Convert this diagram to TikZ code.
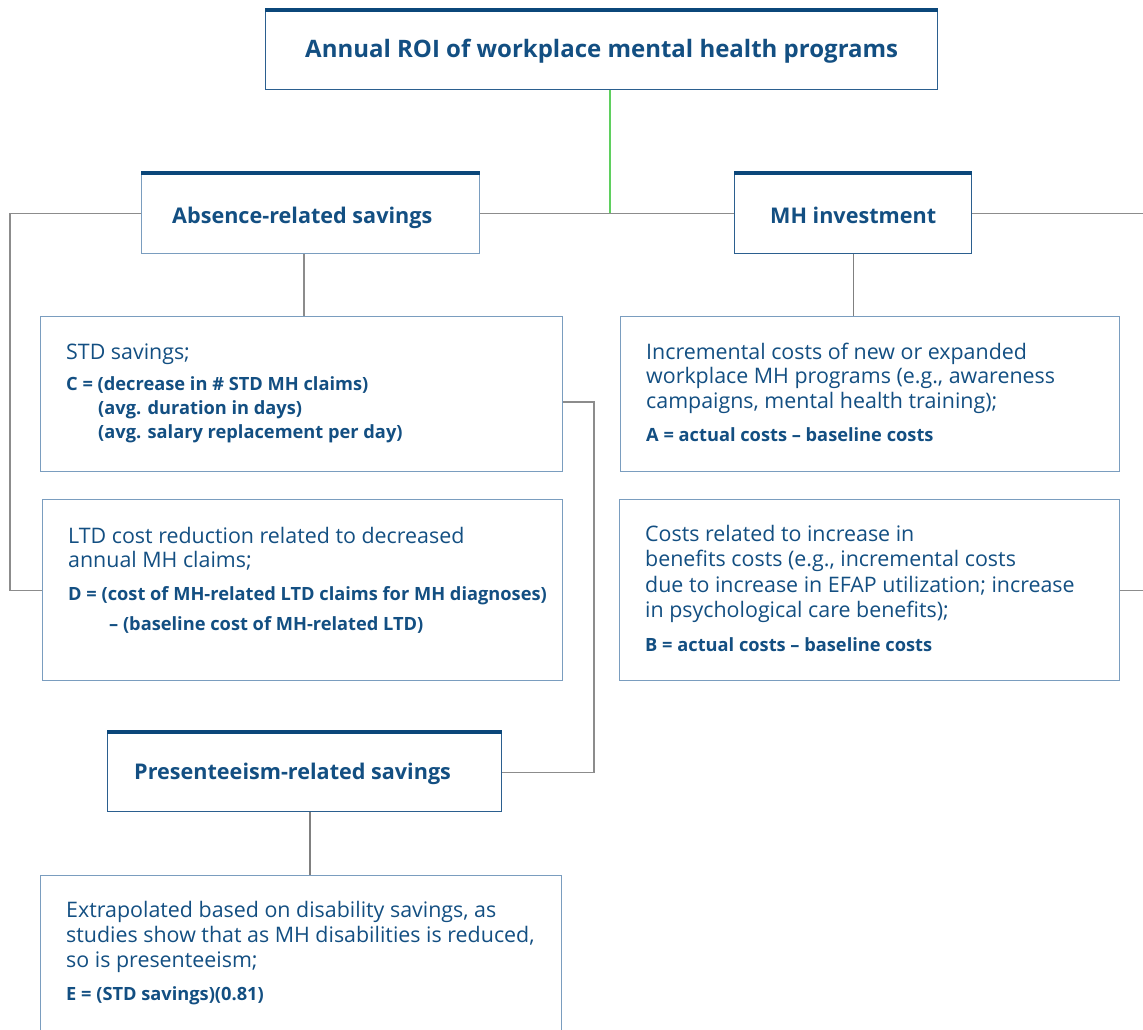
\documentclass[tikz,border=0pt]{standalone}
\usepackage{fontspec}
\setmainfont{Open Sans}
\definecolor{txt}{HTML}{134F82}
\definecolor{topbar}{HTML}{0B477A}
\definecolor{boxlight}{HTML}{7A9DBF}
\definecolor{boxdark}{HTML}{2B5F8F}
\definecolor{conn}{HTML}{8C8C8C}
\definecolor{connG}{HTML}{5FCF5F}
\tikzset{
  boxL/.style={draw=boxlight, line width=1.3pt, fill=white, inner sep=0pt, anchor=north west},
  boxD/.style={draw=boxdark, line width=1.3pt, fill=white, inner sep=0pt, anchor=north west},
  tbar/.style={draw=topbar, line width=4pt},
  link/.style={draw=conn, line width=1.2pt},
  greenlink/.style={draw=connG, line width=1.2pt},
  ttl/.style={inner sep=0pt, anchor=base west, text=txt, font=\fontsize{24}{28}\selectfont\bfseries},
  hd/.style={inner sep=0pt, anchor=base west, text=txt, font=\fontsize{21.6}{26}\selectfont\bfseries},
  reg/.style={inner sep=0pt, anchor=base west, text=txt, font=\fontsize{21.4}{25}\selectfont},
  frm/.style={inner sep=0pt, anchor=base west, text=txt, font=\fontsize{18.25}{24}\selectfont\bfseries}
}
\begin{document}
\begin{tikzpicture}[x=1pt,y=-1pt]
\useasboundingbox (0,0) rectangle (1143,1030);
\clip (0,0) rectangle (1143,1030);
\fill[white] (0,0) rectangle (1143,1030);

% named helper coordinates for connector bends
\coordinate (gx) at (610,0);
\coordinate (Lx) at (10,0);
\coordinate (Rx) at (1144,0);
\coordinate (ax) at (304,0);
\coordinate (px) at (310,0);
\coordinate (sR) at (594,402);

% boxes
\node[boxD, minimum width=672pt, minimum height=79pt] (top) at (265,10) {};
\node[boxL, minimum width=338pt, minimum height=80pt] (abs) at (141,173) {};
\node[boxD, minimum width=237pt, minimum height=80pt] (mh) at (734,173) {};
\node[boxL, minimum width=522pt, minimum height=155pt] (std) at (40,316) {};
\node[boxL, minimum width=520pt, minimum height=181pt] (ltd) at (42,499) {};
\node[boxD, minimum width=394pt, minimum height=79pt] (pres) at (107,732) {};
\node[boxL, minimum width=521pt, minimum height=175pt] (ext) at (40,875) {};
\node[boxL, minimum width=499pt, minimum height=155pt] (inc) at (620,316) {};
\node[boxL, minimum width=500pt, minimum height=181pt] (cst) at (619,499) {};

% thick top bars
\draw[tbar] (top.north west) -- (top.north east);
\draw[tbar] (abs.north west) -- (abs.north east);
\draw[tbar] (mh.north west) -- (mh.north east);
\draw[tbar] (pres.north west) -- (pres.north east);

% connectors
\draw[greenlink] (gx |- top.south) -- (gx |- abs.east);
\draw[link] (abs.east) -- (mh.west);
\draw[link] (abs.west) -- (Lx |- abs.west) |- (ltd.west);
\draw[link] (mh.east) -- (Rx |- mh.east) |- (cst.east);
\draw[link] (ax |- abs.south) -- (ax |- std.north);
\draw[link, draw=gray] (mh.south) -- (mh.south |- inc.north);
\draw[link] (std.east |- sR) -- (sR) |- (pres.east);
\draw[link, draw=gray] (px |- pres.south) -- (px |- ext.north);

% headings
\node[ttl] (t0) at (305,57.5) {Annual ROI of workplace mental health programs};
\node[hd] (h1) at (172,223) {Absence-related savings};
\node[hd] (h2) at (770,223) {MH investment};
\node[hd] (h3) at (134,779) {Presenteeism-related savings};

% STD box
\node[reg] (s1) at (66,359) {STD savings;};
\node[frm] (s2) at (66,390) {C = (decrease in \# STD MH claims)};
\node[frm] (s3) at (98,414) {(avg. duration in days)};
\node[frm] (s4) at (98,438) {(avg. salary replacement per day)};

% LTD box
\node[reg] (l1) at (68,543) {LTD cost reduction related to decreased};
\node[reg] (l2) at (68,567) {annual MH claims;};
\node[frm] (l3) at (68,600) {D = (cost of MH-related LTD claims for MH diagnoses)};
\node[frm] (l4) at (109,630) {– (baseline cost of MH-related LTD)};

% Presenteeism detail box
\node[reg] (e1) at (66,917) {Extrapolated based on disability savings, as};
\node[reg] (e2) at (66,942) {studies show that as MH disabilities is reduced,};
\node[reg] (e3) at (66,967) {so is presenteeism;};
\node[frm] (e4) at (66,1000) {E = (STD savings)(0.81)};

% Incremental box
\node[reg] (i1) at (646,359) {Incremental costs of new or expanded};
\node[reg] (i2) at (646,383) {workplace MH programs (e.g., awareness};
\node[reg] (i3) at (646,408) {campaigns, mental health training);};
\node[frm] (i4) at (646,441) {A = actual costs – baseline costs};

% Costs box
\node[reg] (c1) at (645,541) {Costs related to increase in};
\node[reg] (c2) at (645,566) {benefits costs (e.g., incremental costs};
\node[reg] (c3) at (645,592) {due to increase in EFAP utilization; increase};
\node[reg] (c4) at (645,617) {in psychological care benefits);};
\node[frm] (c5) at (645,651) {B = actual costs – baseline costs};
\end{tikzpicture}
\end{document}
